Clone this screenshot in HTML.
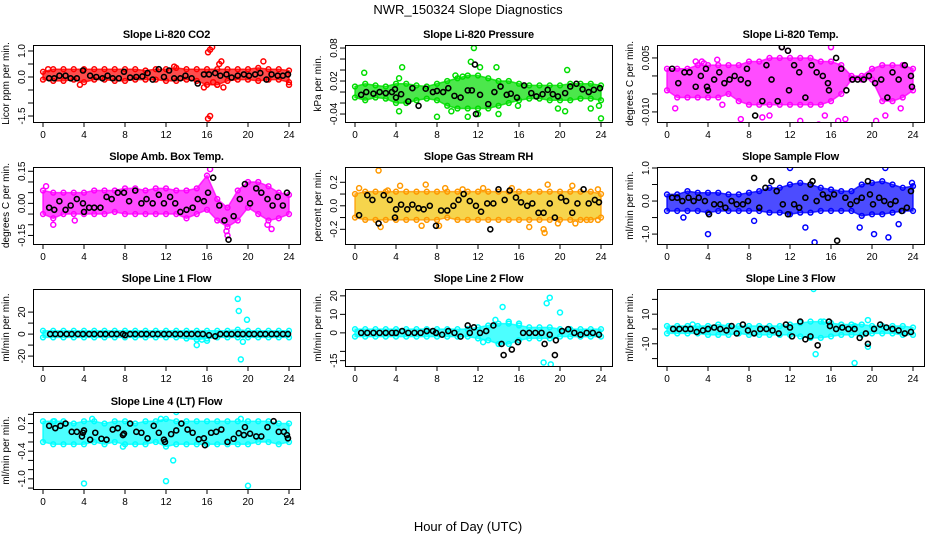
<!DOCTYPE html>
<html><head><meta charset="utf-8"><style>
html,body{margin:0;padding:0;background:#fff;}
svg{display:block;font-family:"Liberation Sans",Arial,sans-serif;}
</style></head><body>
<svg id="chart" width="936" height="540" viewBox="0 0 936 540">
<text x="468" y="14" text-anchor="middle" font-size="13">NWR_150324  Slope Diagnostics</text>
<text x="468" y="531" text-anchor="middle" font-size="13">Hour of Day (UTC)</text>
</svg>
<script>
const hours=[0,1,2,3,4,5,6,7,8,9,10,11,12,13,14,15,16,17,18,19,20,21,22,23,24];
const xTicks=[0,4,8,12,16,20,24];

const co2Lo=[-0.1,-0.15,-0.15,-0.1,-0.2,-0.1,-0.1,-0.15,-0.15,-0.1,-0.1,-0.1,-0.15,-0.15,-0.1,-0.15,-0.3,-0.3,-0.15,-0.1,-0.1,-0.15,-0.1,-0.1,-0.2];
const co2Hi=[0.2,0.3,0.3,0.3,0.3,0.3,0.3,0.3,0.3,0.3,0.25,0.3,0.3,0.35,0.3,0.3,0.3,0.3,0.3,0.3,0.3,0.35,0.3,0.3,0.25];
const co2Bx=[0.6,1.1,1.6,2.2,2.7,3.3,3.9,4.6,5.2,5.8,6.3,6.8,7.4,7.9,8.5,9.1,9.7,10.2,10.7,11.3,11.8,12.3,12.8,13.4,13.9,14.5,15.1,15.7,16.2,16.8,17.3,17.9,18.4,19.0,19.6,20.1,20.7,21.2,21.8,22.3,22.9,23.4,23.9];
const co2By=[-0.05,-0.05,0.05,0.05,-0.05,-0.05,0.25,0.05,0.0,-0.05,0.05,-0.05,-0.05,0.2,-0.02,0.0,0.02,0.15,-0.1,0.3,0.0,0.25,-0.05,-0.05,0.05,-0.05,-0.25,0.1,0.1,0.15,0.05,0.1,-0.02,0.05,0.1,0.05,0.1,0.15,-0.1,0.1,0.05,0.05,0.1];
const co2Ox=[16.1,16.3,16.5,17.2,17.4,16.1,16.3,15.7,17.6,21.5,12.8,0.5,24,3.6,16.6,17.0];
const co2Oy=[0.95,1.05,1.15,0.5,0.6,-1.6,-1.5,-0.4,-0.4,0.6,0.4,0.3,-0.3,-0.3,-0.2,-0.3];

const presLo=[-0.01,-0.015,-0.01,-0.012,-0.02,-0.02,-0.015,-0.012,-0.015,-0.025,-0.03,-0.03,-0.03,-0.03,-0.025,-0.02,-0.015,-0.012,-0.012,-0.015,-0.015,-0.015,-0.012,-0.012,-0.015];
const presHi=[0.01,0.015,0.012,0.01,0.015,0.015,0.012,0.01,0.015,0.02,0.025,0.03,0.03,0.025,0.02,0.02,0.015,0.012,0.012,0.012,0.012,0.015,0.015,0.015,0.012];
const presBx=[0.6,1.1,1.8,2.4,3.0,3.6,3.9,4.0,4.5,5.2,5.6,6.2,6.9,7.6,8.0,8.6,9.1,9.7,10.3,11.0,11.4,11.7,11.8,12.2,13.0,13.6,14.2,14.8,15.2,15.8,16.5,17.2,17.7,18.3,18.8,19.3,19.8,20.5,21.0,21.6,22.2,22.8,23.3,23.9];
const presBy=[-0.005,0.0,-0.003,0.0,-0.002,0.0,0.005,-0.01,-0.004,-0.017,0.007,-0.025,0.006,0.0,0.002,0.0,0.007,-0.007,-0.01,0.003,0.003,0.05,-0.04,-0.005,-0.022,0.0,0.01,-0.005,-0.003,-0.01,0.012,-0.002,-0.008,-0.004,0.004,-0.004,-0.008,-0.002,0.01,0.015,0.005,0.0,0.004,0.007];
const presOx=[0.9,4.6,4.3,4.3,8,9.4,11.6,11.3,12.2,13.8,11,12,14,15.9,20.7,19.8,20.5,23,24,23.8,9.8,10.5];
const presOy=[0.035,0.045,0.025,-0.035,-0.045,-0.035,0.08,0.055,0.045,0.045,-0.045,-0.04,-0.04,-0.025,0.04,-0.03,-0.035,-0.03,-0.048,-0.025,0.03,0.028];

const tempLo=[-0.004,-0.006,-0.006,-0.006,-0.006,-0.006,-0.005,-0.007,-0.008,-0.008,-0.008,-0.008,-0.008,-0.008,-0.008,-0.008,-0.007,-0.005,-0.001,-0.001,-0.001,-0.007,-0.007,-0.006,-0.004];
const tempHi=[0.002,0.002,0.002,0.003,0.003,0.003,0.003,0.003,0.004,0.004,0.005,0.005,0.005,0.005,0.005,0.004,0.004,0.003,0.0,0.0,0.002,0.003,0.003,0.003,0.002];
const tempBx=[0.5,1.1,1.7,2.2,2.8,3.3,3.8,3.9,4.0,4.6,5.1,5.6,6.1,6.6,7.2,7.8,7.9,8.6,9.3,9.7,10.2,10.8,11.2,11.8,11.9,12.4,12.9,13.5,14.1,14.6,15.2,15.7,15.8,16.5,17.0,17.5,18.1,18.6,19.2,19.7,20.3,20.9,21.5,22.0,22.6,23.2,23.8,23.9];
const tempBy=[0.002,-0.002,0.001,0.001,-0.003,0.0,0.002,-0.003,-0.004,-0.001,0.001,-0.002,-0.001,0.0,-0.001,0.002,-0.002,-0.011,-0.007,0.003,-0.001,-0.007,0.008,0.007,-0.004,0.003,0.001,-0.006,0.003,0.001,0.0,-0.002,-0.004,0.005,0.002,-0.004,-0.001,-0.001,-0.001,0.0,-0.002,-0.001,-0.006,0.001,-0.001,0.003,0.0,-0.003];
const tempOx=[0.8,2.8,3.6,9.3,11.2,11.8,13.0,14.8,15.4,16.7,16.0,20.4,21.3,22.8,5.4,3.4,4.9,17.4,10.0,7.2];
const tempOy=[-0.009,0.004,0.0035,-0.0115,0.008,0.007,-0.0125,-0.0135,-0.011,-0.0125,0.008,-0.0125,-0.011,-0.009,-0.008,0.004,0.0045,-0.012,-0.011,-0.012];

const ambLo=[-0.05,-0.07,-0.05,-0.05,-0.05,-0.05,-0.05,-0.04,-0.05,-0.05,-0.05,-0.05,-0.05,-0.05,-0.07,-0.05,-0.03,-0.08,-0.11,-0.08,-0.02,-0.05,-0.08,-0.07,-0.05];
const ambHi=[0.06,0.05,0.05,0.05,0.05,0.06,0.06,0.06,0.07,0.07,0.06,0.07,0.07,0.06,0.06,0.07,0.13,0.02,-0.02,0.06,0.1,0.1,0.08,0.05,0.04];
const ambBx=[0.6,1.1,1.6,2.2,2.7,3.3,3.9,4.0,4.5,5.0,5.6,6.2,6.7,7.3,7.9,8.4,9.0,9.6,10.1,10.7,11.3,11.8,12.4,12.9,13.4,14.0,14.6,15.1,15.7,16.1,16.6,17.2,17.7,18.1,18.6,19.2,19.7,20.2,20.8,21.3,21.9,22.4,22.9,23.4,23.8];
const ambBy=[-0.02,-0.03,0.01,-0.03,-0.01,0.02,0.0,-0.04,-0.02,-0.02,-0.02,0.03,0.02,0.05,0.05,0.01,0.06,0.0,0.02,0.0,0.04,0.0,0.03,0.0,-0.04,-0.03,-0.02,0.02,0.01,0.05,0.12,-0.01,-0.08,-0.17,-0.06,0.02,0.09,0.0,0.07,0.05,0.02,-0.01,0.03,-0.01,0.05];
const ambOx=[16.3,18.0,22.3,0.3,17.9,1.0,3.1,21.9];
const ambOy=[0.16,-0.15,-0.12,0.08,-0.13,-0.1,-0.08,-0.1];

const rhLo=[-0.1,-0.12,-0.12,-0.12,-0.12,-0.12,-0.12,-0.12,-0.12,-0.1,-0.12,-0.12,-0.12,-0.12,-0.12,-0.12,-0.12,-0.12,-0.12,-0.12,-0.12,-0.12,-0.12,-0.12,-0.1];
const rhHi=[0.1,0.12,0.12,0.12,0.12,0.12,0.12,0.12,0.12,0.12,0.12,0.12,0.12,0.12,0.12,0.12,0.12,0.12,0.12,0.12,0.12,0.12,0.12,0.12,0.1];
const rhBx=[0.4,1.2,1.7,2.3,2.8,3.4,3.9,4.0,4.5,5.1,5.6,6.2,6.7,7.3,7.9,8.4,9.0,9.6,10.1,10.6,11.2,11.8,12.3,12.9,13.2,13.5,14.0,14.6,15.1,15.7,16.2,16.8,17.3,17.9,18.4,19.0,19.5,20.1,20.6,21.2,21.7,22.3,22.8,23.4,23.8];
const rhBy=[-0.08,0.09,0.05,-0.15,0.09,0.05,-0.1,-0.03,0.01,-0.03,0.01,-0.02,-0.03,0.0,-0.17,-0.04,-0.04,0.0,0.05,0.1,0.04,0.0,-0.05,0.02,-0.2,0.02,0.14,0.05,0.13,0.07,0.03,0.0,0.02,-0.06,-0.06,0.02,-0.1,0.07,0.04,-0.06,0.02,0.14,0.02,0.05,0.03];
const rhOx=[0.4,2.3,3.2,4.4,6.9,8.8,10.5,12.5,15.3,18.8,21.2,23.7,2.5,6.5,8.2,18.5,18.4,19.8,21.5,22.6,23.7,17.0];
const rhOy=[0.15,0.3,0.13,0.17,0.18,0.15,0.14,0.15,0.15,0.18,0.17,0.14,-0.18,-0.17,-0.17,-0.23,-0.2,-0.15,-0.15,-0.12,-0.12,-0.18];

const flowLo=[-0.3,-0.3,-0.3,-0.3,-0.35,-0.3,-0.3,-0.3,-0.3,-0.3,-0.35,-0.35,-0.4,-0.35,-0.35,-0.3,-0.3,-0.3,-0.3,-0.45,-0.4,-0.4,-0.35,-0.3,-0.3];
const flowHi=[0.2,0.2,0.3,0.25,0.25,0.25,0.2,0.2,0.25,0.3,0.4,0.4,0.5,0.55,0.5,0.4,0.35,0.3,0.3,0.5,0.55,0.6,0.5,0.4,0.45];
const flowBx=[0.5,1.0,1.5,2.1,2.6,3.1,3.7,4.1,4.6,5.2,5.7,6.3,6.8,7.4,7.9,8.5,9.0,9.6,10.2,10.7,11.3,11.8,12.4,12.9,13.5,14.0,14.2,14.6,15.2,15.7,16.3,16.6,17.4,17.9,18.5,19.0,19.6,19.8,20.1,20.7,21.2,21.8,22.3,22.9,23.4,23.8];
const flowBy=[0.1,0.1,0.0,0.1,0.0,0.1,0.0,-0.4,-0.1,-0.1,-0.2,0.0,-0.1,-0.1,0.0,0.7,-0.2,0.4,0.6,0.3,-0.1,-0.4,-0.1,-0.2,0.1,0.5,0.6,0.0,0.2,0.1,0.2,-1.2,0.1,-0.1,0.0,0.1,0.6,0.2,-0.1,0.1,0.0,-0.1,0.0,-0.3,-0.2,0.3];
const flowOx=[4.0,12.0,14.4,19.2,20.2,21.6,21.3,22.6,18.8,13.5,8.5,1.6,23.9];
const flowOy=[-1.0,1.0,-1.25,-1.4,-1.0,-1.1,1.0,-0.7,-0.8,-0.8,-0.6,-0.5,0.55];

const l1Lo=[-3,-3,-3,-3,-3,-3,-3,-3,-3,-3,-3,-3,-3,-3,-4,-5,-4,-3,-3,-3,-3,-3,-3,-3,-3];
const l1Hi=[3,3,3,3,3,3,3,3,3,3,3,3,3,3,3,3,3,3,3,4,3,3,3,3,3];
const l1Bx=[0.7,1.2,1.7,2.3,2.8,3.4,3.9,4.5,5.0,5.6,6.1,6.7,7.2,7.8,8.0,8.5,9.0,9.6,10.1,10.7,11.2,11.8,12.3,12.9,13.4,14.0,14.5,15.1,15.6,16.2,16.8,17.3,17.9,18.4,19.0,19.5,20.1,20.6,21.2,21.7,22.3,22.8,23.4,23.9];
const l1By=[0,0,0,0,0,0,0,0,0,0,0,0,0,0,-1,0,0,0,0,0,0,0,0,0,0,0,0,0,0,-1,-2,0,0,0,0,0,0,0,0,0,0,0,0,0];
const l1Ox=[19,19.1,19.9,19.3,15,19.5,15.5,16];
const l1Oy=[32,21,13,-23,-10,-7,-5,-6];

const l2Lo=[-2,-2,-2,-2,-2,-2,-2,-2,-2,-2,-2,-2,-3,-4,-6,-6,-4,-3,-3,-3,-2,-2,-2,-2,-2];
const l2Hi=[2,2,2,2,2,2,2,2,2,2,2,2,3,4,5,5,4,3,3,3,2,2,2,2,2];
const l2Bx=[0.6,1.2,1.8,2.4,3.0,3.6,4.0,4.6,5.2,5.8,6.4,7.0,7.6,7.9,8.5,9.1,9.7,10.3,11.0,11.2,11.6,12.2,12.8,13.5,14.3,14.5,15.3,15.9,16.4,17.0,17.6,18.2,18.5,19.0,19.5,19.6,20.2,20.8,21.4,22.0,22.6,23.2,23.8];
const l2By=[0,0,0,0,0,0,0,1,0,0,0,1,1,0,-1,1,0,-2,4,0,3,0,1,4,-6,-12,-9,-5,0,0,0,0,-6,-1,-12,-4,1,2,0,-1,0,0,-1];
const l2Ox=[14.4,18.7,19,20,18.4,19.1,15,13.7,16,12.5];
const l2Oy=[14,16,19,11,-16,-17,6,7,5,-5];

const l3Lo=[-3,-3,-3,-3,-4,-4,-4,-3,-4,-4,-4,-4,-4,-5,-6,-6,-5,-4,-4,-4,-3,-3,-3,-4,-4];
const l3Hi=[2,2,2,2,2,3,2,2,2,2,2,2,3,4,5,5,4,3,3,3,2,2,2,2,1];
const l3Bx=[0.6,1.2,1.8,2.3,2.9,3.5,4.0,4.6,5.2,5.8,6.3,6.8,7.4,7.9,8.5,9.1,9.7,10.3,10.9,11.6,12.0,12.2,13.0,13.5,14.0,14.7,15.8,15.9,16.5,17.1,17.7,18.3,18.8,19.4,19.6,20.2,20.8,21.4,22.0,22.6,23.2,23.8];
const l3By=[0,0,0,0,-2,-1,0,1,0,-1,2,-3,3,-1,-3,0,0,-1,-3,3,1,-5,5,-7,-5,-11,5,2,0,1,0,0,-6,-3,-10,0,3,1,0,-1,-3,-2];
const l3Ox=[14.3,14.5,18.3,19.6,2.5,18.3,19.6,15.3];
const l3Oy=[27,-17,-23,-12,3,2,6,5];

const l4Lo=[-0.2,-0.25,-0.25,-0.25,-0.25,-0.2,-0.25,-0.2,-0.25,-0.25,-0.25,-0.2,-0.3,-0.25,-0.25,-0.25,-0.25,-0.25,-0.25,-0.25,-0.25,-0.2,-0.2,-0.25,-0.2];
const l4Hi=[0.25,0.25,0.25,0.2,0.25,0.25,0.2,0.25,0.25,0.2,0.25,0.25,0.3,0.25,0.25,0.25,0.25,0.25,0.25,0.25,0.25,0.25,0.25,0.2,0.2];
const l4Bx=[0.6,1.2,1.7,2.2,2.8,3.3,3.8,3.9,4.0,4.6,5.1,5.7,6.2,6.8,7.3,7.8,7.9,8.5,9.1,9.6,10.2,10.8,11.3,11.8,11.9,12.5,13.0,13.5,14.1,14.6,15.2,15.7,15.8,16.4,16.9,17.4,18.0,18.6,19.1,19.6,19.7,20.2,20.8,21.3,21.9,22.5,23.0,23.5,23.8,23.9];
const l4By=[0.15,0.1,0.15,0.2,0.02,0.02,-0.08,0.0,0.05,-0.15,0.0,-0.13,-0.15,0.07,0.1,-0.05,-0.02,0.2,0.02,0.0,-0.12,0.15,0.0,-0.15,-0.2,-0.03,0.05,0.2,0.07,0.0,-0.14,-0.12,-0.27,0.0,0.02,0.07,-0.2,-0.13,-0.01,-0.05,0.12,-0.02,-0.08,-0.08,0.12,0.25,0.02,0.02,-0.05,-0.12];
const l4Ox=[4,12,20,12.7,7.8,13,11.5,1.1,4.8,19.3];
const l4Oy=[-1.1,-1.05,-1.15,-0.6,-0.3,0.45,0.3,0.25,0.3,0.3];

const panels=[
 {id:'co2',title:'Slope Li-820 CO2',ylab:'Licor ppm per min.',col:0,row:0,c:'#ff0000',lo:co2Lo,hi:co2Hi,bx:co2Bx,by:co2By,ox:co2Ox,oy:co2Oy,ymin:-1.73,ymax:1.23,ticks:[1,0.5,0,-0.5,-1,-1.5],labs:['1.0','','0.0','','','-1.5']},
 {id:'pressure',title:'Slope Li-820 Pressure',ylab:'kPa per min.',col:1,row:0,c:'#00dd00',lo:presLo,hi:presHi,bx:presBx,by:presBy,ox:presOx,oy:presOy,ymin:-0.0545,ymax:0.0855,ticks:[0.08,0.06,0.04,0.02,0,-0.02,-0.04],labs:['0.08','','','0.02','','','-0.04']},
 {id:'li820-temp',title:'Slope Li-820 Temp.',ylab:'degrees C per min.',col:2,row:0,c:'#ff00ff',lo:tempLo,hi:tempHi,bx:tempBx,by:tempBy,ox:tempOx,oy:tempOy,ymin:-0.0128,ymax:0.0086,ticks:[0.005,0,-0.005,-0.01],labs:['0.005','','','-0.010']},
 {id:'amb-box-temp',title:'Slope Amb. Box Temp.',ylab:'degrees C per min.',col:0,row:1,c:'#ff00ff',lo:ambLo,hi:ambHi,bx:ambBx,by:ambBy,ox:ambOx,oy:ambOy,ymin:-0.19,ymax:0.17,ticks:[0.15,0.1,0.05,0,-0.05,-0.1,-0.15],labs:['0.15','','','0.00','','','-0.15']},
 {id:'gas-stream-rh',title:'Slope Gas Stream RH',ylab:'percent per min.',col:1,row:1,c:'#ff9900',fill:'#f2c200',lo:rhLo,hi:rhHi,bx:rhBx,by:rhBy,ox:rhOx,oy:rhOy,ymin:-0.325,ymax:0.33,ticks:[0.2,0.1,0,-0.1,-0.2],labs:['0.2','','0.0','','-0.2']},
 {id:'sample-flow',title:'Slope Sample Flow',ylab:'ml/min per min.',col:2,row:1,c:'#0000ff',lo:flowLo,hi:flowHi,bx:flowBx,by:flowBy,ox:flowOx,oy:flowOy,ymin:-1.3,ymax:1.03,ticks:[1,0.5,0,-0.5,-1],labs:['1.0','','0.0','','-1.0']},
 {id:'line1-flow',title:'Slope Line 1 Flow',ylab:'ml/min per min.',col:0,row:2,c:'#00ffff',lo:l1Lo,hi:l1Hi,bx:l1Bx,by:l1By,ox:l1Ox,oy:l1Oy,ymin:-29,ymax:41,ticks:[20,10,0,-10,-20],labs:['20','','0','','-20']},
 {id:'line2-flow',title:'Slope Line 2 Flow',ylab:'ml/min per min.',col:1,row:2,c:'#00ffff',lo:l2Lo,hi:l2Hi,bx:l2Bx,by:l2By,ox:l2Ox,oy:l2Oy,ymin:-17.9,ymax:23.7,ticks:[20,10,0,-10,-15],labs:['20','10','0','','-15']},
 {id:'line3-flow',title:'Slope Line 3 Flow',ylab:'ml/min per min.',col:2,row:2,c:'#00ffff',lo:l3Lo,hi:l3Hi,bx:l3Bx,by:l3By,ox:l3Ox,oy:l3Oy,ymin:-25,ymax:27,ticks:[20,10,0,-10,-20],labs:['','10','','-10','']},
 {id:'line4-flow',title:'Slope Line 4 (LT) Flow',ylab:'ml/min per min.',col:0,row:3,c:'#00ffff',lo:l4Lo,hi:l4Hi,bx:l4Bx,by:l4By,ox:l4Ox,oy:l4Oy,ymin:-1.22,ymax:0.45,ticks:[0.4,0.2,0,-0.2,-0.4,-0.6,-0.8,-1.0,-1.2],labs:['','0.2','','','-0.4','','','-1.0','']}
];

const colX0=[43,355,667], colBoxL=[33,345,657], boxW=267;
const rowTop=[45,167,289,412], boxH=77;
const NS='http://www.w3.org/2000/svg';
const svg=document.getElementById('chart');
function mk(tag,attrs,parent){const e=document.createElementNS(NS,tag);for(const k in attrs)e.setAttribute(k,attrs[k]);(parent||svg).appendChild(e);return e;}

panels.forEach(p=>{
  const g=mk('g',{});
  
  
  const L=colBoxL[p.col], T=rowTop[p.row], B=T+boxH, R=L+boxW;
  const x0=colX0[p.col], xs=246/24;
  const xf=h=>x0+h*xs;
  const yf=v=>T+(p.ymax-v)/(p.ymax-p.ymin)*boxH;
  const clip='clip-'+p.id;
  const cp=mk('clipPath',{id:clip},g); mk('rect',{x:L,y:T,width:boxW,height:boxH},cp);
  const plot=mk('g',{'clip-path':'url(#'+clip+')'},g);
  let d='M'+hours.map((h,i)=>xf(h)+','+yf(p.hi[i])).join(' L');
  d+=' L'+hours.slice().reverse().map((h,j)=>{const i=hours.length-1-j;return xf(h)+','+yf(p.lo[i]);}).join(' L')+' Z';
  const band=mk('path',{d:d,fill:p.fill||p.c,'fill-opacity':0.7,stroke:p.c,'stroke-width':1.5,'stroke-opacity':0.8},plot);
  
  
  hours.forEach((h,i)=>{
    [p.lo[i],p.hi[i]].forEach(v=>{
      const c=mk('circle',{cx:xf(h),cy:yf(v),r:2.4,fill:'none',stroke:p.c,'stroke-width':1.5},plot);
      
      
    });
  });
  p.ox.forEach((h,i)=>{
    const c=mk('circle',{cx:xf(h),cy:yf(p.oy[i]),r:2.5,fill:'none',stroke:p.c,'stroke-width':1.5},plot);
    
    
  });
  p.bx.forEach((h,i)=>{
    const c=mk('circle',{cx:xf(h),cy:yf(p.by[i]),r:2.5,fill:'none',stroke:'#000','stroke-width':1.6},plot);
    
    
  });
  const bx=mk('rect',{x:L+0.5,y:T+0.5,width:boxW,height:boxH,fill:'none',stroke:'#000','stroke-width':1},g);
  
  
  xTicks.forEach(t=>{
    mk('line',{x1:xf(t),x2:xf(t),y1:B,y2:B+5,stroke:'#000'},g);
    const tx=mk('text',{x:xf(t),y:B+16,'text-anchor':'middle','font-size':10},g);
    tx.textContent=t;
    
    
  });
  p.ticks.forEach((t,i)=>{
    const y=yf(t);
    mk('line',{x1:L-5,x2:L,y1:y,y2:y,stroke:'#000'},g);
    if(p.labs[i]){
      const tx=mk('text',{x:L-8,y:y,'text-anchor':'middle','font-size':10,transform:'rotate(-90 '+(L-8)+' '+y+')'},g);
      tx.textContent=p.labs[i];
      
      
    }
  });
  const yl=mk('text',{x:L-24,y:T+boxH/2,'text-anchor':'middle','font-size':10,transform:'rotate(-90 '+(L-24)+' '+(T+boxH/2)+')'},g);
  yl.textContent=p.ylab;
  
  
  const ti=mk('text',{x:L+boxW/2,y:T-7,'text-anchor':'middle','font-size':11,'font-weight':'bold','letter-spacing':'-0.2'},g);
  ti.textContent=p.title;
  
  
});
</script>
</body></html>
